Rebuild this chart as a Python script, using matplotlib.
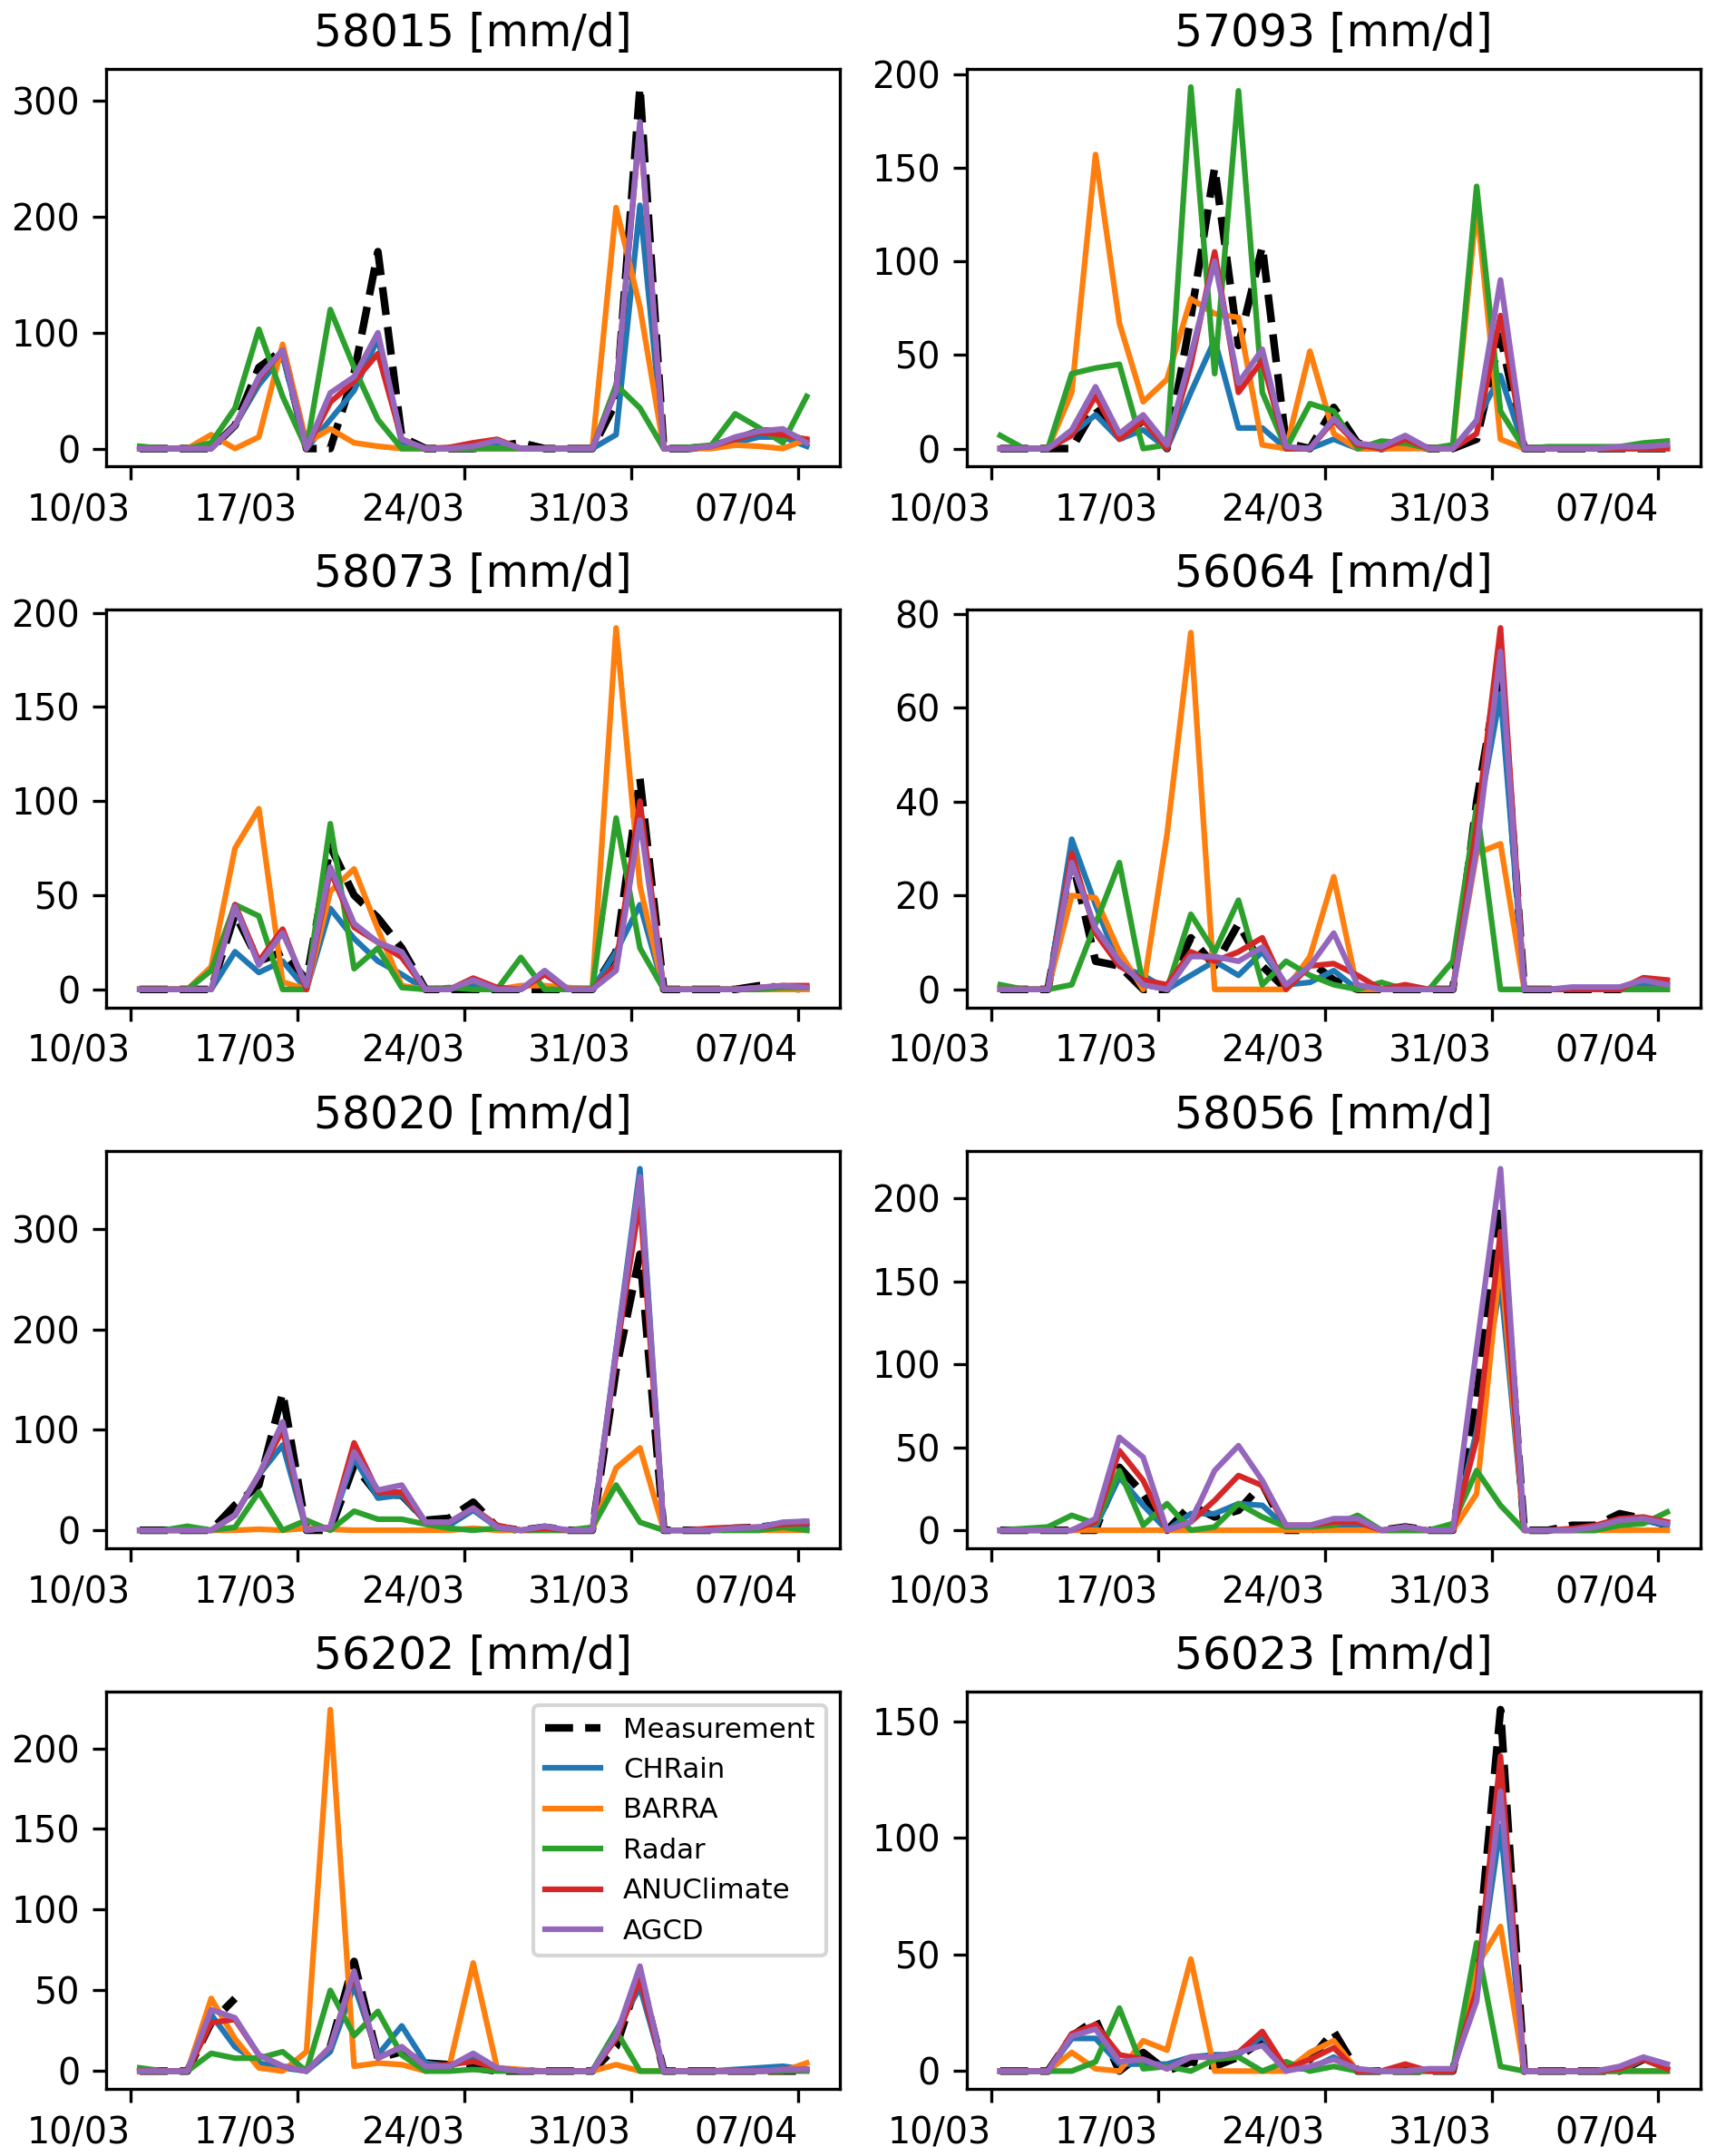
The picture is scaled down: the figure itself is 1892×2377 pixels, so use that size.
import numpy as np
import pandas as pd
import matplotlib
matplotlib.use("Agg")
import matplotlib.pyplot as plt
import matplotlib.dates as mdates

# daily totals (9am to 9am), one value per day
dates = pd.date_range("2022-03-10 09:00", periods=29, freq="D")
tick_dates = pd.to_datetime(["2022-03-10", "2022-03-17", "2022-03-24", "2022-03-31", "2022-04-07"])

products = ["Measurement", "CHRain", "BARRA", "Radar", "ANUClimate", "AGCD"]
colors = ["black", "#1f77b4", "#ff7f0e", "#2ca02c", "#d62728", "#9467bd"]

nan = np.nan

# station 58015
s58015_meas = [0, 0, 0, 0, 20, 70, 85, 0, 0, 65, 170, 10, 0, 0, 0, 2, 5, 0, 0, 0, 40, 312, 0, 0, 2, 8, 15, 15, 5]
s58015_chrain = [0, 0, 0, 0, 20, 55, 80, 0, 25, 50, 95, 5, 0, 0, 0, 5, 0, 0, 0, 0, 12, 210, 0, 0, 2, 5, 10, 10, 2]
s58015_barra = [0, 0, 0, 12, 0, 10, 90, 5, 17, 5, 2, 0, 0, 0, 0, 0, 0, 0, 0, 0, 208, 122, 0, 0, 0, 3, 2, 0, 8]
s58015_radar = [2, 0, 0, 5, 35, 103, 45, 0, 120, 70, 25, 0, 0, 0, 0, 0, 0, 0, 0, 0, 55, 35, 0, 1, 3, 30, 18, 5, 45]
s58015_anu = [0, 0, 0, 0, 20, 60, 85, 0, 40, 58, 82, 8, 0, 1, 5, 8, 0, 0, 0, 0, 50, 280, 0, 0, 2, 8, 14, 12, 8]
s58015_agcd = [0, 0, 0, 0, 20, 62, 85, 0, 48, 62, 100, 8, 0, 0, 2, 7, 0, 0, 0, 0, 50, 282, 0, 0, 2, 10, 15, 17, 5]

# station 57093
s57093_meas = [0, 0, 0, 0, 22, 5, 15, 0, 70, 150, 55, 108, 3, 0, 22, 3, 0, 3, 0, 0, 5, 60, 0, 0, 0, 0, 0, 0, 0]
s57093_chrain = [0, 0, 0, 8, 18, 5, 10, 0, 30, 58, 11, 11, 0, 0, 5, 0, 0, 2, 0, 0, 15, 39, 0, 0, 0, 0, 0, 0, 1]
s57093_barra = [0, 0, 0, 30, 157, 67, 25, 37, 80, 72, 70, 2, 0, 52, 8, 0, 0, 0, 0, 0, 130, 5, 0, 0, 0, 0, 0, 0, 0]
s57093_radar = [7, 0, 0, 40, 43, 45, 0, 2, 193, 40, 191, 30, 0, 24, 20, 0, 4, 3, 0, 2, 140, 20, 0, 1, 1, 1, 1, 3, 4]
s57093_anu = [0, 0, 0, 7, 28, 5, 15, 0, 45, 105, 30, 47, 0, 0, 15, 2, 0, 5, 0, 0, 8, 71, 0, 0, 0, 0, 0, 0, 0]
s57093_agcd = [0, 0, 0, 10, 33, 8, 18, 2, 50, 100, 35, 53, 1, 0, 16, 3, 1, 7, 0, 0, 15, 90, 0, 0, 0, 0, 1, 1, 2]

# station 58073
s58073_meas = [0, 0, 0, 0, 40, 15, 20, 5, 76, 50, 38, 22, 0, 0, 0, 0, 0, 0, 0, 0, 20, 112, 0, 0, 0, 0, 2, 1, 0]
s58073_chrain = [0, 0, 0, 0, 20, 9, 15, 0, 43, 27, 15, 8, 0, 0, 3, 0, 0, 8, 0, 0, 20, 45, 0, 0, 0, 0, 0, 0, 0]
s58073_barra = [0, 0, 0, 12, 75, 96, 4, 0, 52, 64, 32, 2, 0, 0, 5, 0, 2, 2, 1, 0, 192, 55, 0, 0, 0, 0, 0, 0, 0]
s58073_radar = [0, 0, 0, 10, 45, 39, 0, 0, 88, 11, 22, 1, 0, 1, 0, 0, 17, 0, 0, 0, 91, 22, 0, 0, 0, 0, 0, 1, 1]
s58073_anu = [0, 0, 0, 0, 45, 15, 32, 0, 63, 33, 25, 17, 0, 0, 6, 1, 0, 8, 0, 0, 13, 100, 0, 0, 0, 0, 1, 2, 2]
s58073_agcd = [0, 0, 0, 0, 44, 13, 30, 2, 65, 35, 25, 20, 0, 0, 5, 0, 0, 10, 0, 0, 10, 90, 0, 0, 0, 0, 1, 2, 1]

# station 56064
s56064_meas = [0, 0, 0, 28, 6, 5, 0, 0, 11, 5, 14, 5, 0, 6, 2, 0, 0, 0, 0, 0, 40, 70, 0, 0, 0, 0, 0, 2, 1]
s56064_chrain = [0, 0, 0, 32, 18, 5, 3, 0, 3, 6, 3, 8, 1, 1.5, 4, 0, 0, 0, 0, 0, 35, 63, 0, 0, 0, 0, 0, 1, 1]
s56064_barra = [0, 0, 0, 20, 19.5, 8, 0, 33, 76, 0, 0, 0, 0, 7, 24, 0, 0, 0, 0, 0, 29, 31, 0, 0, 0, 0, 0, 0, 0]
s56064_radar = [1, 0, 0, 1, 14, 27, 1, 0, 16, 8, 19, 1, 6, 3, 1, 0, 1.5, 0, 0, 6, 39, 0, 0, 0, 0, 0, 0, 0, 0]
s56064_anu = [0, 0, 0, 29, 12, 5, 2, 1, 8, 6, 8, 11, 0, 5, 5.5, 3, 0, 1, 0, 0, 35, 77, 0, 0, 0, 0, 0, 2.5, 2]
s56064_agcd = [0, 0, 0, 27, 13, 6, 1, 0, 7, 7, 6, 9, 1, 5, 12, 1, 0, 0, 0, 0, 30, 72, 0, 0, 0.5, 0.5, 0.5, 2, 1]

# station 58020
s58020_meas = [0, 0, 0, 0, 25, 45, 137, 0, 0, 65, 35, 35, 10, 12, 28, 3, 0, 3, 0, 0, 160, 275, 0, 0, 0, 2, 3, 6, 8]
s58020_chrain = [0, 0, 0, 0, 15, 55, 85, 0, 3, 72, 32, 35, 8, 5, 20, 3, 0, 3, 0, 0, 180, 360, 0, 0, 0, 2, 3, 5, 5]
s58020_barra = [0, 0, 0, 0, 0, 1, 0, 2, 1, 0, 0, 0, 0, 0, 2, 0, 0, 0, 0, 0, 62, 82, 0, 0, 0, 0, 0, 0, 0]
s58020_radar = [0, 0, 4, 0, 3, 38, 0, 10, 0, 19, 11, 11, 6, 2, 0, 2, 0, 0, 0, 3, 45, 8, 0, 0, 0, 0, 0, 3, 0]
s58020_anu = [0, 0, 0, 0, 15, 55, 100, 0, 3, 87, 38, 38, 8, 8, 22, 5, 0, 2, 0, 0, 175, 330, 0, 0, 2, 3, 3, 6, 7]
s58020_agcd = [0, 0, 0, 0, 15, 55, 108, 0, 3, 78, 40, 45, 8, 8, 22, 3, 0, 4, 0, 0, 180, 352, 0, 0, 0, 2, 3, 8, 9]

# station 58056
s58056_meas = [0, 0, 0, 0, 0, 38, 22, 0, 15, 8, 12, 28, 0, 0, 5, 5, 0, 2, 0, 0, 80, 195, 0, 0, 3, 3, 10, 7, 3]
s58056_chrain = [0, 0, 0, 0, 2, 32, 15, 0, 10, 10, 16, 15, 2, 2, 3, 3, 0, 0, 0, 0, 60, 150, 0, 0, 0, 0, 5, 6, 3]
s58056_barra = [0, 0, 0, 0, 0, 0, 0, 0, 0, 0, 0, 0, 0, 0, 0, 0, 0, 0, 0, 0, 22, 165, 0, 0, 0, 0, 0, 0, 0]
s58056_radar = [0, 1, 2, 9, 4, 36, 3, 16, 0, 2, 16, 8, 2, 2, 3, 9, 0, 0, 0, 4, 36, 15, 0, 0, 0, 0, 3, 4, 11]
s58056_anu = [0, 0, 0, 0, 5, 48, 30, 0, 5, 18, 33, 27, 3, 3, 5, 5, 0, 2, 0, 0, 55, 180, 0, 0, 1, 3, 7, 8, 5]
s58056_agcd = [0, 0, 0, 0, 7, 56, 44, 0, 5, 36, 51, 30, 3, 3, 7, 7, 0, 2, 0, 0, 110, 218, 0, 0, 0, 2, 6, 7, 4]

# station 56202 (gauge missing a few days)
s56202_meas = [0, 0, 0, 30, 45, nan, nan, nan, 15, 68, 8, 12, 5, 4, 2, 0, 0, 0, 0, 0, 15, 60, 0, 0, 0, 0, 0, 0, 0]
s56202_chrain = [0, 0, 0, 35, 15, 5, 2, 0, 12, 53, 10, 28, 5, 3, 8, 1, 0, 0, 0, 0, 25, 52, 0, 0, 0, 1, 2, 3, 1]
s56202_barra = [0, 0, 0, 45, 20, 2, 0, 12, 224, 3, 5, 4, 0, 3, 67, 2, 1, 0, 0, 0, 4, 0, 0, 0, 0, 0, 0, 0, 5]
s56202_radar = [2, 0, 0, 11, 8, 8, 12, 0, 50, 22, 37, 10, 0, 0, 1, 0, 0, 0, 0, 0, 25, 0, 0, 0, 0, 0, 0, 0, 0]
s56202_anu = [0, 0, 0, 30, 32, 10, 3, 0, 15, 60, 8, 15, 3, 4, 6, 2, 0, 0, 0, 0, 20, 57, 0, 0, 0, 0, 0, 1, 1]
s56202_agcd = [0, 0, 0, 38, 33, 10, 3, 0, 15, 62, 8, 15, 3, 3, 11, 2, 0, 0, 0, 0, 22, 65, 0, 0, 0, 0, 0, 1, 1]

# station 56023
s56023_meas = [0, 0, 0, 15, 22, 0, 8, 0, 4, 2, 6, 13, 1, 5, 17, 0, 0, 0, 0, 0, 45, 155, 0, 0, 0, 0, 0, 5, 2]
s56023_chrain = [0, 0, 0, 14, 14, 3, 3, 3, 6, 7, 7, 15, 1, 1, 6, 0, 0, 0, 0, 0, 35, 105, 0, 0, 0, 0, 0, 5, 1]
s56023_barra = [0, 0, 0, 8, 1, 0, 13, 9, 48, 0, 0, 0, 0, 8, 13, 0, 0, 0, 0, 0, 45, 62, 0, 0, 0, 0, 0, 0, 0]
s56023_radar = [0, 0, 0, 0, 4, 27, 1, 2, 0, 5, 6, 0, 4, 0, 2, 0, 0, 0, 0, 1, 55, 2, 0, 0, 0, 0, 0, 0, 0]
s56023_anu = [0, 0, 0, 16, 20, 7, 5, 1, 6, 6, 8, 17, 1, 5, 10, 0, 0, 3, 0, 0, 35, 135, 0, 0, 0, 0, 1, 5, 1]
s56023_agcd = [0, 0, 0, 15, 18, 4, 5, 1, 6, 6, 8, 11, 0, 2, 5, 1, 0, 0, 1, 1, 30, 120, 0, 0, 0, 0, 2, 6, 3]

stations = ["58015", "57093", "58073", "56064", "58020", "58056", "56202", "56023"]
series = {
    "58015": [s58015_meas, s58015_chrain, s58015_barra, s58015_radar, s58015_anu, s58015_agcd],
    "57093": [s57093_meas, s57093_chrain, s57093_barra, s57093_radar, s57093_anu, s57093_agcd],
    "58073": [s58073_meas, s58073_chrain, s58073_barra, s58073_radar, s58073_anu, s58073_agcd],
    "56064": [s56064_meas, s56064_chrain, s56064_barra, s56064_radar, s56064_anu, s56064_agcd],
    "58020": [s58020_meas, s58020_chrain, s58020_barra, s58020_radar, s58020_anu, s58020_agcd],
    "58056": [s58056_meas, s58056_chrain, s58056_barra, s58056_radar, s58056_anu, s58056_agcd],
    "56202": [s56202_meas, s56202_chrain, s56202_barra, s56202_radar, s56202_anu, s56202_agcd],
    "56023": [s56023_meas, s56023_chrain, s56023_barra, s56023_radar, s56023_anu, s56023_agcd],
}

fig, axes = plt.subplots(4, 2, figsize=(1892 / 300, 2377 / 300), dpi=300)
fig.subplots_adjust(left=0.062, right=0.991, bottom=0.031, top=0.968, wspace=0.173, hspace=0.36)

for ax, stn in zip(axes.flat, stations):
    for name, col, vals in zip(products, colors, series[stn]):
        if name == "Measurement":
            ax.plot(dates, vals, color=col, ls="--", lw=2, label=name)
        else:
            ax.plot(dates, vals, color=col, lw=1.5, label=name)
    ax.set_title(f"{stn} [mm/d]", fontsize=11.7)
    ax.set_xticks(tick_dates)
    ax.xaxis.set_major_formatter(mdates.DateFormatter("%d/%m"))
    ax.tick_params(labelsize=9.5)
    plt.setp(ax.get_xticklabels(), ha="right")
    if stn == "56202":
        ax.legend(loc="upper right", fontsize=7.4)

fig.savefig("out.png", dpi=300)
